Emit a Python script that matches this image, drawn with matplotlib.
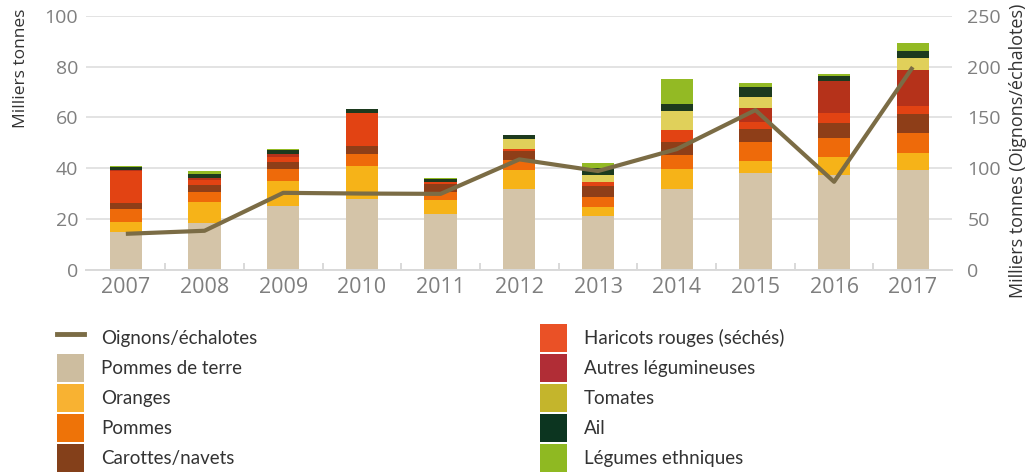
import matplotlib
matplotlib.use('Agg')
import matplotlib.pyplot as plt
from matplotlib.patches import Patch
from matplotlib.lines import Line2D
import numpy as np

years = ['2007', '2008', '2009', '2010', '2011', '2012', '2013', '2014', '2015', '2016', '2017']

# stacked series, bottom to top (milliers de tonnes)
pommes_de_terre = [14.9, 18.5, 25.0, 27.8, 22.0, 31.8, 21.1, 31.8, 38.1, 37.3, 39.3]
oranges = [4.0, 8.2, 9.9, 13.0, 5.4, 7.5, 3.6, 7.8, 4.7, 7.1, 6.7]
pommes = [5.0, 3.9, 4.7, 4.8, 3.2, 3.9, 3.9, 5.6, 7.5, 7.5, 7.8]
carottes = [2.5, 2.7, 2.8, 3.1, 3.1, 3.5, 4.3, 5.1, 5.1, 5.9, 7.5]
haricots = [12.6, 2.0, 2.0, 13.0, 0.7, 0.8, 1.6, 4.6, 2.8, 3.9, 3.2]
autres_leg = [0.3, 0.9, 1.2, 0.0, 0.2, 0.0, 0.0, 0.2, 5.5, 12.7, 14.2]
tomates = [0.0, 0.0, 0.0, 0.0, 0.0, 4.0, 2.8, 7.4, 4.3, 0.0, 4.7]
ail = [1.3, 1.6, 1.5, 1.7, 1.1, 1.6, 2.7, 2.8, 4.0, 1.9, 2.8]
ethniques = [0.3, 1.1, 0.4, 0.0, 0.4, 0.0, 2.0, 9.8, 1.6, 0.8, 3.1]

# right axis
oignons = [35.3, 38.3, 75.7, 75.0, 74.7, 108.7, 97.2, 118.8, 157.3, 86.6, 199.7]

series = [
    ('Pommes de terre', pommes_de_terre, '#d4c4a8'),
    ('Oranges', oranges, '#f6b318'),
    ('Pommes', pommes, '#ee6a0a'),
    ('Carottes/navets', carottes, '#8e3e18'),
    ('Haricots rouges (séchés)', haricots, '#e24313'),
    ('Autres légumineuses', autres_leg, '#b5321a'),
    ('Tomates', tomates, '#e0d05a'),
    ('Ail', ail, '#1c3a1e'),
    ('Légumes ethniques', ethniques, '#93ba24'),
]
legend_colors = {
    'Pommes de terre': '#cdbd9f',
    'Oranges': '#f8b232',
    'Pommes': '#ee7308',
    'Carottes/navets': '#84401a',
    'Haricots rouges (séchés)': '#ea5126',
    'Autres légumineuses': '#b12d36',
    'Tomates': '#c4b52c',
    'Ail': '#0c3520',
    'Légumes ethniques': '#8fb922',
}
line_color = '#7b6c45'
tick_color = '#7f7f7f'
text_color = '#333333'

plt.rcParams['font.family'] = ['Open Sans', 'DejaVu Sans']

fig = plt.figure(figsize=(10.26, 4.73), dpi=100)
ax = fig.add_axes([0.0843, 0.430, 0.8437, 0.536])

x = np.arange(len(years))
bottom = np.zeros(len(years))
for name, vals, col in series:
    ax.bar(x, vals, width=0.41, bottom=bottom, color=col, zorder=2)
    bottom += np.array(vals)

ax.set_xlim(-0.5, len(years) - 0.5)
ax.set_ylim(0, 100)
ax.set_yticks(np.arange(0, 101, 20))
ax.grid(axis='y', color='#e3e3e3', linewidth=1.4, zorder=0)
ax.set_axisbelow(True)
for s in ['top', 'left', 'right']:
    ax.spines[s].set_visible(False)
ax.spines['bottom'].set_color('#d9d9d9')
ax.spines['bottom'].set_linewidth(1.4)
ax.tick_params(axis='y', length=0, labelsize=14, labelcolor=tick_color, pad=6)
ax.set_xticks(x)
ax.set_xticklabels(years)
ax.tick_params(axis='x', length=0, labelsize=15.5, labelcolor=tick_color, pad=5)
ax.set_xticks(np.arange(0.5, len(years) - 1, 1), minor=True)
ax.tick_params(axis='x', which='minor', direction='in', length=5, color='#d9d9d9', width=1.4)

ax2 = ax.twinx()
ax2.plot(x, oignons, color=line_color, linewidth=3, zorder=3, solid_capstyle='butt')
ax2.set_ylim(0, 250)
ax2.set_yticks(np.arange(0, 251, 50))
for s in ['top', 'left', 'right', 'bottom']:
    ax2.spines[s].set_visible(False)
ax2.tick_params(axis='y', length=0, labelsize=14, labelcolor=tick_color, pad=11)

# axis titles
fig.text(21 / 1026, 1 - 9 / 473, 'Milliers tonnes', rotation=90, ha='center', va='top',
         fontsize=12.5, color=text_color)
fig.text(1018 / 1026, 1 - 151 / 473, 'Milliers tonnes (Oignons/échalotes)', rotation=90,
         ha='center', va='center', fontsize=13, color=text_color)

handles_left = [Line2D([0], [0], color=line_color, linewidth=3.5)]
labels_left = ['Oignons/échalotes']
for name in ['Pommes de terre', 'Oranges', 'Pommes', 'Carottes/navets']:
    handles_left.append(Patch(facecolor=legend_colors[name]))
    labels_left.append(name)
handles_right = []
labels_right = []
for name in ['Haricots rouges (séchés)', 'Autres légumineuses', 'Tomates', 'Ail', 'Légumes ethniques']:
    handles_right.append(Patch(facecolor=legend_colors[name]))
    labels_right.append(name)

leg_kw = dict(loc='upper left', frameon=False, borderpad=0, borderaxespad=0,
              handlelength=1.44, handleheight=1.92, handletextpad=0.9,
              labelspacing=0.11, prop={'family': ['Lato', 'DejaVu Sans'], 'size': 13.5})
leg1 = fig.legend(handles_left, labels_left, bbox_to_anchor=(57 / 1026, 0.315), **leg_kw)
leg2 = fig.legend(handles_right, labels_right, bbox_to_anchor=(540 / 1026, 0.315), **leg_kw)
for leg in (leg1, leg2):
    for t in leg.get_texts():
        t.set_color(text_color)

fig.savefig('out.png', dpi=100)
